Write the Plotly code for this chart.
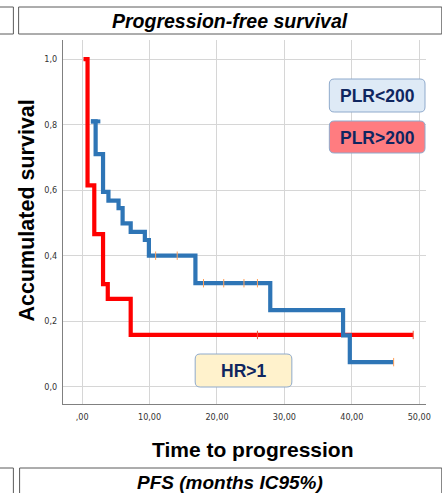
import plotly.graph_objects as go

# ---- data ----
red_time = [0.2, 0.8, 1.8, 3.1, 3.8, 7.2, 49.1]
red_surv = [1.0, 0.615, 0.466, 0.313, 0.268, 0.158, 0.158]
red_censor_t = [26.0, 49.1]
red_censor_s = [0.158, 0.158]

blue_time = [1.3, 2.0, 3.1, 3.9, 5.4, 6.0, 7.2, 9.3, 9.9, 16.8, 27.9, 38.7, 39.7, 46.2]
blue_surv = [0.81, 0.71, 0.595, 0.568, 0.545, 0.499, 0.473, 0.448, 0.40, 0.316, 0.234, 0.157, 0.075, 0.075]
blue_cap_t = [1.3, 2.7]
blue_cap_s = [0.81, 0.81]
blue_censor_t = [10.9, 14.1, 18.0, 21.0, 24.0, 26.0, 46.2]
blue_censor_s = [0.40, 0.40, 0.316, 0.316, 0.316, 0.316, 0.075]

x_ticks = [0, 10, 20, 30, 40, 50]
x_ticktext = [",00", "10,00", "20,00", "30,00", "40,00", "50,00"]
y_ticks = [0.0, 0.2, 0.4, 0.6, 0.8, 1.0]
y_ticktext = ["0,0", "0,2", "0,4", "0,6", "0,8", "1,0"]

RED = "#FF0000"
BLUE = "#2E75B6"

W, H = 442, 493
L, R, T, B = 63, 431, 40, 404  # plot area in pixels


def px(x):
    return (x - L) / (R - L)


def py(y):
    return (B - y) / (B - T)


fig = go.Figure()
fig.add_trace(go.Scatter(x=red_time, y=red_surv, mode="lines",
                         line=dict(color=RED, width=4.2, shape="hv"), showlegend=False))
fig.add_trace(go.Scatter(x=red_censor_t, y=red_censor_s, mode="markers",
                         marker=dict(symbol="line-ns-open", size=6, line=dict(color=RED, width=1)),
                         showlegend=False))
fig.add_trace(go.Scatter(x=blue_cap_t, y=blue_cap_s, mode="lines",
                         line=dict(color=BLUE, width=4), showlegend=False))
fig.add_trace(go.Scatter(x=blue_time, y=blue_surv, mode="lines",
                         line=dict(color=BLUE, width=4.2, shape="hv"), showlegend=False))
fig.add_trace(go.Scatter(x=blue_censor_t, y=blue_censor_s, mode="markers",
                         marker=dict(symbol="line-ns-open", size=6, line=dict(color=BLUE, width=1)),
                         showlegend=False))

shapes = []
frame = "#5a5a5a"
# header/footer frames
for (x0, x1, y0, y1) in [(-5, 12.7, 7, 34), (18, 447, 7, 34), (-5, 12.7, 468, 500), (19, 447, 468, 500)]:
    shapes.append(dict(type="rect", xref="paper", yref="paper",
                       x0=px(x0), x1=px(x1), y0=py(y1), y1=py(y0),
                       line=dict(color=frame, width=1), fillcolor="rgba(0,0,0,0)"))


def rounded(x0, y0, x1, y1, r, fill, border):
    rx, ry = r / (R - L), r / (B - T)
    a, b, c, d = px(x0), px(x1), py(y1), py(y0)  # left, right, bottom, top
    path = (f"M {a+rx},{c} L {b-rx},{c} Q {b},{c} {b},{c+ry} L {b},{d-ry} Q {b},{d} {b-rx},{d} "
            f"L {a+rx},{d} Q {a},{d} {a},{d-ry} L {a},{c+ry} Q {a},{c} {a+rx},{c} Z")
    return dict(type="path", xref="paper", yref="paper", path=path,
                fillcolor=fill, line=dict(color=border, width=1))


shapes.append(rounded(333, 79, 430, 112, 5, "#DEEAF6", "#8FAACC"))
shapes.append(rounded(333, 121, 430, 153, 5, "#FF7C80", "#8FAACC"))
shapes.append(rounded(197, 354, 295, 387, 5, "#FFF2CC", "#8FAACC"))

NAVY = "#0F2660"
FF = "Liberation Sans, Arial"
ann = [
    dict(text="<b><i>Progression-free survival</i></b>", x=px(232), y=py(21),
         font=dict(size=19.5, color="#000", family=FF)),
    dict(text="<b><i>PFS (months IC95%)</i></b>", x=px(232), y=py(482.5),
         font=dict(size=19, color="#000", family=FF)),
    dict(text="<b>Time to progression</b>", x=px(255), y=py(449),
         font=dict(size=21, color="#000", family=FF)),
    dict(text="<b>Accumulated survival</b>", x=px(27), y=py(210), textangle=-90,
         font=dict(size=21.5, color="#000", family=FF)),
    dict(text="<b>PLR&lt;200</b>", x=px(381.5), y=py(96),
         font=dict(size=17.5, color=NAVY, family=FF)),
    dict(text="<b>PLR&gt;200</b>", x=px(381.5), y=py(137.5),
         font=dict(size=17.5, color=NAVY, family=FF)),
    dict(text="<b>HR&gt;1</b>", x=px(246), y=py(371),
         font=dict(size=17.5, color=NAVY, family=FF)),
]
for a in ann:
    a.update(xref="paper", yref="paper", showarrow=False, xanchor="center", yanchor="middle")

tickfont = dict(size=9, color="#333333",
                family="DejaVu Sans Condensed, Liberation Sans Narrow, Arial Narrow, Liberation Sans, sans-serif")

fig.update_layout(
    width=W, height=H,
    margin=dict(l=L, r=W - R, t=T, b=H - B, pad=0),
    paper_bgcolor="white", plot_bgcolor="white",
    shapes=shapes, annotations=ann,
    xaxis=dict(range=[-2.84, 51.0], tickvals=x_ticks, ticktext=x_ticktext, showgrid=True,
               gridcolor="#D6D6D6", gridwidth=1.3, zeroline=False, showline=True,
               linecolor="#808080", linewidth=1, ticks="", tickfont=tickfont, ticklabelstandoff=4),
    yaxis=dict(range=[-0.0528, 1.0586], tickvals=y_ticks, ticktext=y_ticktext, showgrid=True,
               gridcolor="#D6D6D6", gridwidth=1.3, zeroline=False, showline=True,
               linecolor="#808080", linewidth=1, ticks="", tickfont=tickfont, ticklabelstandoff=3),
)

fig.write_html("out.html", config={"displayModeBar": False},
               post_script="document.body.style.margin='0px';document.body.style.overflow='hidden';")
